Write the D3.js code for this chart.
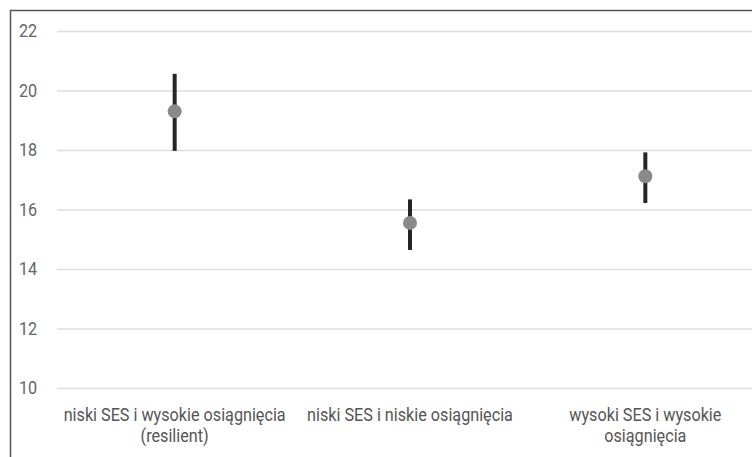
<!DOCTYPE html>
<html>
<head>
<meta charset="utf-8">
<script src="https://cdn.jsdelivr.net/npm/d3@7"></script>
<style>
  html, body { margin: 0; padding: 0; background: #fff; }
  svg { display: block; }
  text { font-family: Roboto, "Liberation Sans Narrow", sans-serif; }
</style>
</head>
<body>
<svg id="chart" width="752" height="457"></svg>
<script>
// Group labels (line breaks marked with "\n")
const categories = [
  "niski SES i wysokie osiągnięcia\n(resilient)",
  "niski SES i niskie osiągnięcia",
  "wysoki SES i wysokie\nosiągnięcia"
];
// Mean value and interval bounds per group
const means = [19.3, 15.55, 17.12];
const lower = [17.97, 14.64, 16.22];
const upper = [20.56, 16.34, 17.92];
const yTicks = [10, 12, 14, 16, 18, 20, 22];

const svg = d3.select("#chart");
const W = 752, H = 457;
const plot = { left: 57, right: 763, top: 31, bottom: 388 };
const condensed = "scale(0.9,1)";

const x = d3.scaleBand().domain(categories).range([plot.left, plot.right]);
const y = d3.scaleLinear().domain([10, 22]).range([plot.bottom, plot.top]);

// Frame around the chart area
svg.append("path")
  .attr("d", `M10.5,${H} L10.5,10.5 L${W},10.5`)
  .attr("fill", "none").attr("stroke", "#555").attr("stroke-width", 1.5);

// Horizontal grid lines with value labels
const yAxis = d3.axisLeft(y).tickValues(yTicks).tickSize(-(W - plot.left)).tickPadding(0);
const gy = svg.append("g").attr("transform", `translate(${plot.left},0)`).call(yAxis);
gy.select(".domain").remove();
gy.selectAll(".tick line").attr("stroke", "#dcdcdc").attr("stroke-width", 1.5);
gy.selectAll(".tick text")
  .attr("x", 0).attr("text-anchor", "start")
  .attr("transform", `translate(-38,0) ${condensed}`)
  .attr("fill", "#666").style("font-size", "18px");

// Category labels below the plot
const xAxis = d3.axisBottom(x).tickSize(0).tickPadding(0);
const gx = svg.append("g").attr("transform", `translate(0,${plot.bottom})`).call(xAxis);
gx.select(".domain").remove();
gx.selectAll(".tick text").each(function(d) {
  const t = d3.select(this).text(null)
    .attr("transform", condensed)
    .attr("fill", "#555").style("font-size", "18px").attr("y", 0).attr("dy", null);
  d.split("\n").forEach((line, i) => {
    t.append("tspan").attr("x", 0).attr("y", 33 + i * 21).text(line);
  });
});

const cx = i => x(categories[i]) + x.bandwidth() / 2;

// Interval bars
svg.append("g").selectAll("line").data(categories).join("line")
  .attr("x1", (d, i) => cx(i)).attr("x2", (d, i) => cx(i))
  .attr("y1", (d, i) => y(upper[i])).attr("y2", (d, i) => y(lower[i]))
  .attr("stroke", "#262626").attr("stroke-width", 4);

// Mean markers
svg.append("g").selectAll("circle").data(categories).join("circle")
  .attr("cx", (d, i) => cx(i)).attr("cy", (d, i) => y(means[i]))
  .attr("r", 7).attr("fill", "#8a8a8a");
</script>
</body>
</html>
